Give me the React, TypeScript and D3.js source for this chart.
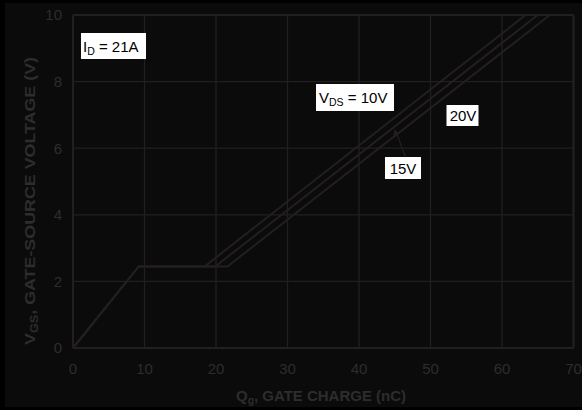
import React from "react";
import * as d3 from "d3";

const xTicks = [0, 10, 20, 30, 40, 50, 60, 70];
const yTicks = [0, 2, 4, 6, 8, 10];

const qg10V = [0, 9.2, 18.4, 63.3];
const vgs10V = [0, 2.45, 2.45, 10];
const qg15V = [0, 9.2, 19.9, 65.0];
const vgs15V = [0, 2.45, 2.45, 10];
const qg20V = [0, 9.2, 21.6, 66.7];
const vgs20V = [0, 2.45, 2.45, 10];

const seriesList = [
  { name: "10V", q: qg10V, v: vgs10V },
  { name: "15V", q: qg15V, v: vgs15V },
  { name: "20V", q: qg20V, v: vgs20V },
];

const W = 582;
const H = 410;
const left = 73;
const right = 573.5;
const top = 15;
const bottom = 348;

const LINE = "#231f20";
const TXT = "#2d2d2d";
const FONT = "'Liberation Sans', Arial, Helvetica, sans-serif";

export default function App() {
  const x = d3.scaleLinear().domain([0, 70]).range([left, right]);
  const y = d3.scaleLinear().domain([0, 10]).range([bottom, top]);
  const line = d3
    .line<[number, number]>()
    .x((d) => x(d[0]))
    .y((d) => y(d[1]));

  return (
    <svg
      width={W}
      height={H}
      style={{ position: "absolute", left: 0, top: 0, background: "#000" }}
    >
      <rect x={5} y={3} width={W - 5} height={H - 6} fill="#0b0b0b" />
      {/* grid */}
      {xTicks.slice(1, -1).map((t) => (
        <line key={"gx" + t} x1={x(t)} x2={x(t)} y1={top} y2={bottom} stroke={LINE} strokeWidth={1.3} />
      ))}
      {yTicks.slice(1, -1).map((t) => (
        <line key={"gy" + t} x1={left} x2={right} y1={y(t)} y2={y(t)} stroke={LINE} strokeWidth={1.3} />
      ))}
      <rect x={left} y={top} width={right - left} height={bottom - top} fill="none" stroke={LINE} strokeWidth={2.2} rx={1.5} />
      {/* curves */}
      {seriesList.map((s) => (
        <path
          key={s.name}
          d={line(s.q.map((q, i) => [q, s.v[i]] as [number, number])) || ""}
          fill="none"
          stroke={LINE}
          strokeWidth={2}
          strokeLinejoin="miter"
        />
      ))}
      {/* tick labels */}
      {yTicks.map((t) => (
        <text key={"ty" + t} x={left - 11} y={y(t)} dy="0.36em" textAnchor="end" fontFamily={FONT} fontSize={15} fill={TXT}>
          {t}
        </text>
      ))}
      {xTicks.map((t) => (
        <text key={"tx" + t} x={x(t)} y={bottom + 21} dy="0.36em" textAnchor="middle" fontFamily={FONT} fontSize={15} fill={TXT}>
          {t}
        </text>
      ))}
      {/* axis titles */}
      <text
        x={321}
        y={400.5}
        textAnchor="middle"
        fontFamily={FONT}
        fontSize={14.5}
        fontWeight="bold"
        fill={TXT}
        textLength={170}
        lengthAdjust="spacingAndGlyphs"
      >
        Q<tspan fontSize={10} dy={3}>g</tspan>
        <tspan dy={-3}>, GATE CHARGE (nC)</tspan>
      </text>
      <text
        transform={`translate(35, 201) rotate(-90)`}
        textAnchor="middle"
        fontFamily={FONT}
        fontSize={15.5}
        fontWeight="bold"
        fill={TXT}
        textLength={288}
        lengthAdjust="spacingAndGlyphs"
      >
        V<tspan fontSize={11} dy={3}>GS</tspan>
        <tspan dy={-3}>, GATE-SOURCE VOLTAGE (V)</tspan>
      </text>
      {/* annotations */}
      <rect x={81} y={33} width={65} height={26} fill="#fff" />
      <text x={83} y={52} fontFamily={FONT} fontSize={15} fill="#000">
        I<tspan fontSize={10.5} dy={3}>D</tspan>
        <tspan dy={-3}> = 21A</tspan>
      </text>
      <rect x={316} y={84} width={78} height={27} fill="#fff" />
      <text x={319} y={103} fontFamily={FONT} fontSize={15} fill="#000">
        V<tspan fontSize={10.5} dy={3}>DS</tspan>
        <tspan dy={-3}> = 10V</tspan>
      </text>
      <rect x={446.5} y={105} width={32} height={21} fill="#fff" />
      <text x={463} y={121} textAnchor="middle" fontFamily={FONT} fontSize={15} fill="#000">
        20V
      </text>
      <rect x={385} y={157} width={36} height={22} fill="#fff" />
      <text x={403} y={173.5} textAnchor="middle" fontFamily={FONT} fontSize={15} fill="#000">
        15V
      </text>
      {/* arrow */}
      <line x1={405.5} y1={157} x2={396.5} y2={133} stroke={LINE} strokeWidth={1.3} />
      <path d="M395,129 L393.2,135.6 L398.6,134.2 Z" fill={LINE} />
    </svg>
  );
}
